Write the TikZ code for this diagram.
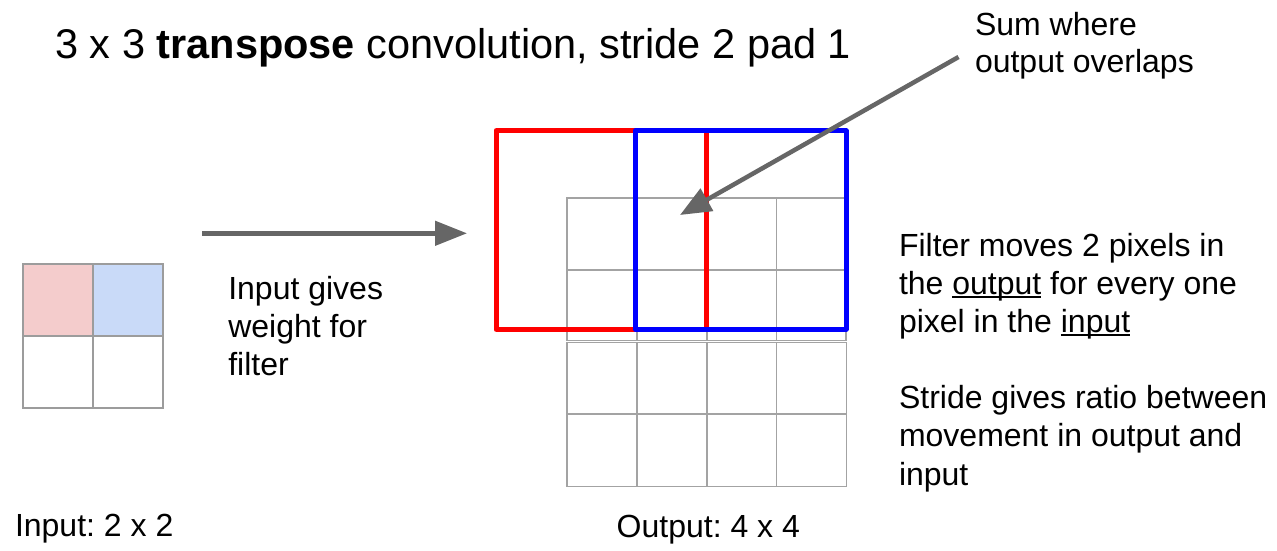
\documentclass[tikz,border=0pt]{standalone}
\usepackage{fontspec}
\setmainfont{Liberation Sans}
\usetikzlibrary{arrows.meta}
\frenchspacing
\definecolor{arrowgray}{HTML}{666666}
\definecolor{gridgray}{HTML}{A3A3A3}
\definecolor{ingray}{HTML}{9C9C9C}
\definecolor{lightred}{HTML}{F4CCCC}
\definecolor{lightblue}{HTML}{C9DAF8}
\newcommand\myul[1]{\setbox0\hbox{#1}\rlap{\rule[-3.5pt]{\wd0}{1.8pt}}\box0\relax}
\tikzset{
  txt/.style={anchor=base west, inner sep=0pt, outer sep=0pt, font=\fontsize{32}{38}\selectfont},
  titletxt/.style={anchor=base west, inner sep=0pt, font=\fontsize{41.5}{48}\selectfont},
  pointer/.style={draw=arrowgray, line width=4.5pt, -{Triangle[length=32pt,width=24pt]}},
  outgrid/.style={draw=gridgray, line width=1.6pt},
  ingrid/.style={draw=ingray, line width=2pt},
  filterbox/.style={line width=5pt, line join=round},
}
\begin{document}
\begin{tikzpicture}[x=1pt,y=-1pt]
\useasboundingbox (0,0) rectangle (1277,551);
\fill[white] (0,0) rectangle (1277,551);

% title
\node[titletxt] (title) at (55,58.5) {3 x 3 \textbf{transpose} convolution, stride 2 pad 1};

% input grid
\fill[lightred] (23,264.3) rectangle (93,336);
\fill[lightblue] (93,264.3) rectangle (163,336);
\draw[ingrid] (23,264.3) rectangle (163,408.3);
\draw[ingrid] (93,264.3) -- (93,408.3);
\draw[ingrid] (23,336) -- (163,336);

% output grid (top part)
\draw[outgrid] (566.7,198) rectangle (846,340.5);
\foreach \x in {636.7,706.7,776.3} \draw[outgrid] (\x,198) -- (\x,340.5);
\draw[outgrid] (566.7,270) -- (846,270);
% output grid (bottom part)
\draw[outgrid] (566.7,342.5) rectangle (846.3,486.3);
\foreach \x in {636.7,706.7,776.3} \draw[outgrid] (\x,342.5) -- (\x,486.3);
\draw[outgrid] (566.7,414) -- (846.3,414);

% filters
\draw[filterbox, draw=red] (496,130.7) rectangle (706.7,329.3);
\draw[filterbox, draw=blue] (635.3,130.7) rectangle (846,329.3);

% arrows
\coordinate (a1s) at (202,233.3);
\coordinate (a1e) at (467,233.3);
\draw[pointer] (a1s) -- (a1e);
\coordinate (a2s) at (958.5,57);
\coordinate (a2e) at (680,215);
\draw[pointer, -{Triangle[length=31pt,width=25pt]}] (a2s) -- (a2e);

% labels
\node[txt] (sum1) at (975,36) {Sum where};
\node[txt] (sum2) at (975,72.7) {output overlaps};

\node[txt] (ig1) at (228.3,299.3) {Input gives};
\node[txt] (ig2) at (228.3,337) {weight for};
\node[txt] (ig3) at (228.3,375) {filter};

\node[txt] (fm1) at (899,256) {Filter moves 2 pixels in};
\node[txt] (fm2) at (899,294.5) {the \myul{output} for every one};
\node[txt] (fm3) at (899,332.5) {pixel in the \myul{input}};

\node[txt] (sg1) at (899,408.5) {Stride gives ratio between};
\node[txt] (sg2) at (899,446.7) {movement in output and};
\node[txt] (sg3) at (899,485) {input};

\node[txt] (inlab) at (15,536.7) {Input: 2 x 2};
\node[txt] (outlab) at (616.7,537.3) {Output: 4 x 4};
\end{tikzpicture}
\end{document}
